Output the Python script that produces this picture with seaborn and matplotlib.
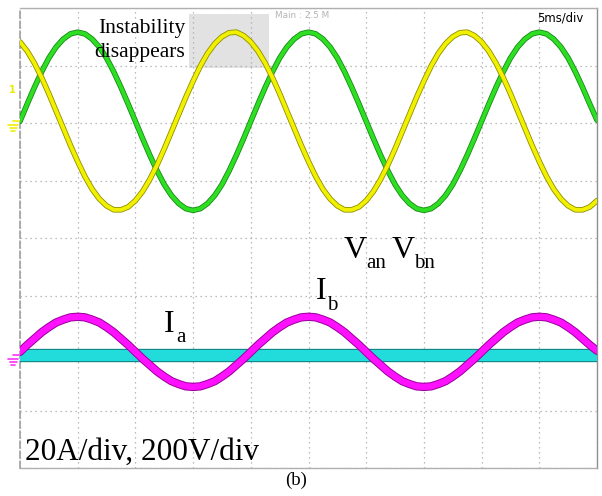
import numpy as np
import pandas as pd
import matplotlib
matplotlib.use("Agg")
import matplotlib.pyplot as plt
import matplotlib.patheffects as pe
from matplotlib.patches import Rectangle
from matplotlib.lines import Line2D
import seaborn as sns

# time axis: 5 ms/div, 10 divisions on screen, one sample every 0.625 ms
time_ms = np.linspace(0, 50, 81)

# traces, in screen divisions (0 = bottom of the screen)
v_an = [6.03, 6.33, 6.62, 6.89, 7.13, 7.32, 7.46, 7.55, 7.58, 7.55, 7.46, 7.32, 7.13, 6.89, 6.62, 6.33,
        6.03, 5.73, 5.44, 5.17, 4.93, 4.74, 4.60, 4.51, 4.48, 4.51, 4.60, 4.74, 4.93, 5.17, 5.44, 5.73,
        6.03, 6.33, 6.62, 6.89, 7.13, 7.32, 7.46, 7.55, 7.58, 7.55, 7.46, 7.32, 7.13, 6.89, 6.62, 6.33,
        6.03, 5.73, 5.44, 5.17, 4.93, 4.74, 4.60, 4.51, 4.48, 4.51, 4.60, 4.74, 4.93, 5.17, 5.44, 5.73,
        6.03, 6.33, 6.62, 6.89, 7.13, 7.32, 7.46, 7.55, 7.58, 7.55, 7.46, 7.32, 7.13, 6.89, 6.62, 6.33,
        6.05]
v_bn = [7.41, 7.25, 7.04, 6.79, 6.51, 6.21, 5.91, 5.61, 5.33, 5.07, 4.85, 4.68, 4.56, 4.49, 4.49, 4.54,
        4.65, 4.81, 5.02, 5.27, 5.55, 5.85, 6.15, 6.45, 6.73, 6.99, 7.21, 7.38, 7.50, 7.57, 7.58, 7.52,
        7.41, 7.25, 7.04, 6.79, 6.51, 6.21, 5.91, 5.61, 5.33, 5.07, 4.85, 4.68, 4.56, 4.49, 4.49, 4.54,
        4.65, 4.81, 5.02, 5.27, 5.55, 5.85, 6.15, 6.45, 6.73, 6.99, 7.21, 7.38, 7.50, 7.57, 7.58, 7.52,
        7.41, 7.25, 7.04, 6.79, 6.51, 6.21, 5.91, 5.61, 5.33, 5.07, 4.85, 4.68, 4.56, 4.49, 4.49, 4.54,
        4.65]
i_a = [2.02, 2.14, 2.25, 2.36, 2.45, 2.53, 2.58, 2.62, 2.63, 2.62, 2.58, 2.53, 2.45, 2.36, 2.25, 2.14,
       2.02, 1.90, 1.79, 1.68, 1.59, 1.51, 1.46, 1.42, 1.41, 1.42, 1.46, 1.51, 1.59, 1.68, 1.79, 1.90,
       2.02, 2.14, 2.25, 2.36, 2.45, 2.53, 2.58, 2.62, 2.63, 2.62, 2.58, 2.53, 2.45, 2.36, 2.25, 2.14,
       2.02, 1.90, 1.79, 1.68, 1.59, 1.51, 1.46, 1.42, 1.41, 1.42, 1.46, 1.51, 1.59, 1.68, 1.79, 1.90,
       2.02, 2.14, 2.25, 2.36, 2.45, 2.53, 2.58, 2.62, 2.63, 2.62, 2.58, 2.53, 2.45, 2.36, 2.25, 2.14,
       2.04]
i_b_time = [0, 50]
i_b = [1.97, 1.97]

W, H = 602, 496
sns.set_style("white")
serif = "Liberation Serif"

fig = plt.figure(figsize=(W / 100, H / 100), dpi=100)
ax = fig.add_axes([20 / W, 28 / H, 577 / W, 460 / H])

def fx(px, py):
    return px / W, 1 - py / H

# highlighted region behind the trace (grid dots still show through)
ax.add_patch(Rectangle((2.93, 6.96), 1.39, 0.94, color="#e2e2e2", lw=0, zorder=0.3))

traces = [
    (i_b_time, i_b, "#22dcdc", "#128585", 8.0, 9.6),
    (time_ms, i_a, "#ff10ff", "#9a009a", 4.6, 6.0),
    (time_ms, v_an, "#2ede22", "#168a16", 2.8, 4.0),
    (time_ms, v_bn, "#f0f000", "#8f8f00", 2.8, 4.0),
]
for t, y, c, edge, lw, elw in traces:
    df = pd.DataFrame({"t": np.asarray(t) / 5.0, "y": y})
    sns.lineplot(data=df, x="t", y="y", ax=ax, color=c, lw=lw, zorder=3,
                 path_effects=[pe.Stroke(linewidth=elw, foreground=edge), pe.Normal()])

ax.set_xlim(0, 10)
ax.set_ylim(0, 8)
ax.set_xticks(range(11))
ax.set_yticks(range(9))
ax.grid(True, linestyle=(0, (1, 3)), color="#a8a8a8", lw=0.9)
ax.set_axisbelow(True)
ax.tick_params(length=0, labelbottom=False, labelleft=False)
ax.set_xlabel("")
ax.set_ylabel("")
for s in ["top", "bottom", "right"]:
    ax.spines[s].set_color("#b0b0b0")
    ax.spines[s].set_linewidth(1.0)
ax.spines["right"].set_color("#909090")
ax.spines["left"].set_color("#a0a0a0")
ax.spines["left"].set_linestyle((0, (4, 2)))
ax.spines["left"].set_linewidth(1.2)

# annotations
k = "black"
fig.text(*fx(185, 33), "Instability", family=serif, fontsize=15.5, color=k, ha="right", va="baseline", zorder=5)
fig.text(*fx(185, 57), "disappears", family=serif, fontsize=15.5, color=k, ha="right", va="baseline", zorder=5)
fig.text(*fx(275, 15), "Main : 2.5 M", fontsize=6.4, color="#b4b4b4", ha="left", va="center")
fig.text(*fx(583, 18), "5ms/div", fontsize=8.4, color=k, ha="right", va="center")

fig.text(*fx(344, 258), "V", family=serif, fontsize=23, color=k, va="baseline")
fig.text(*fx(366, 268), "an", family=serif, fontsize=15, color=k, va="baseline")
fig.text(*fx(392, 258), "V", family=serif, fontsize=23, color=k, va="baseline")
fig.text(*fx(414, 268), "bn", family=serif, fontsize=15, color=k, va="baseline")
fig.text(*fx(164, 332), "I", family=serif, fontsize=23, color=k, va="baseline")
fig.text(*fx(176, 342), "a", family=serif, fontsize=15, color=k, va="baseline")
fig.text(*fx(316, 299), "I", family=serif, fontsize=23, color=k, va="baseline")
fig.text(*fx(327, 310), "b", family=serif, fontsize=15, color=k, va="baseline")

fig.text(*fx(25, 460), "20A/div, 200V/div", family=serif, fontsize=22.5, color=k, va="baseline")
fig.text(*fx(296, 485), "(b)", family=serif, fontsize=13.5, color=k, ha="center", va="baseline")

# channel markers on the left
def ground(px, py, color):
    for j, half in enumerate([5, 3.5, 2]):
        x0, y0 = fx(px - half, py + j * 3)
        x1, _ = fx(px + half, py)
        fig.add_artist(Line2D([x0, x1], [y0, y0], color=color, lw=1.2))
    xa, ya = fx(px, py - 4)
    xb, yb = fx(px + 6, py - 4)
    fig.add_artist(Line2D([xa, xb], [ya, ya], color=color, lw=1.2))

ground(13, 125, "#f0f000")
ground(13, 359, "#ff30ff")
fig.text(*fx(12, 90), "1", fontsize=7, color="#e8e800", ha="center", va="center", fontweight="bold")

fig.savefig("out.png", dpi=100)
